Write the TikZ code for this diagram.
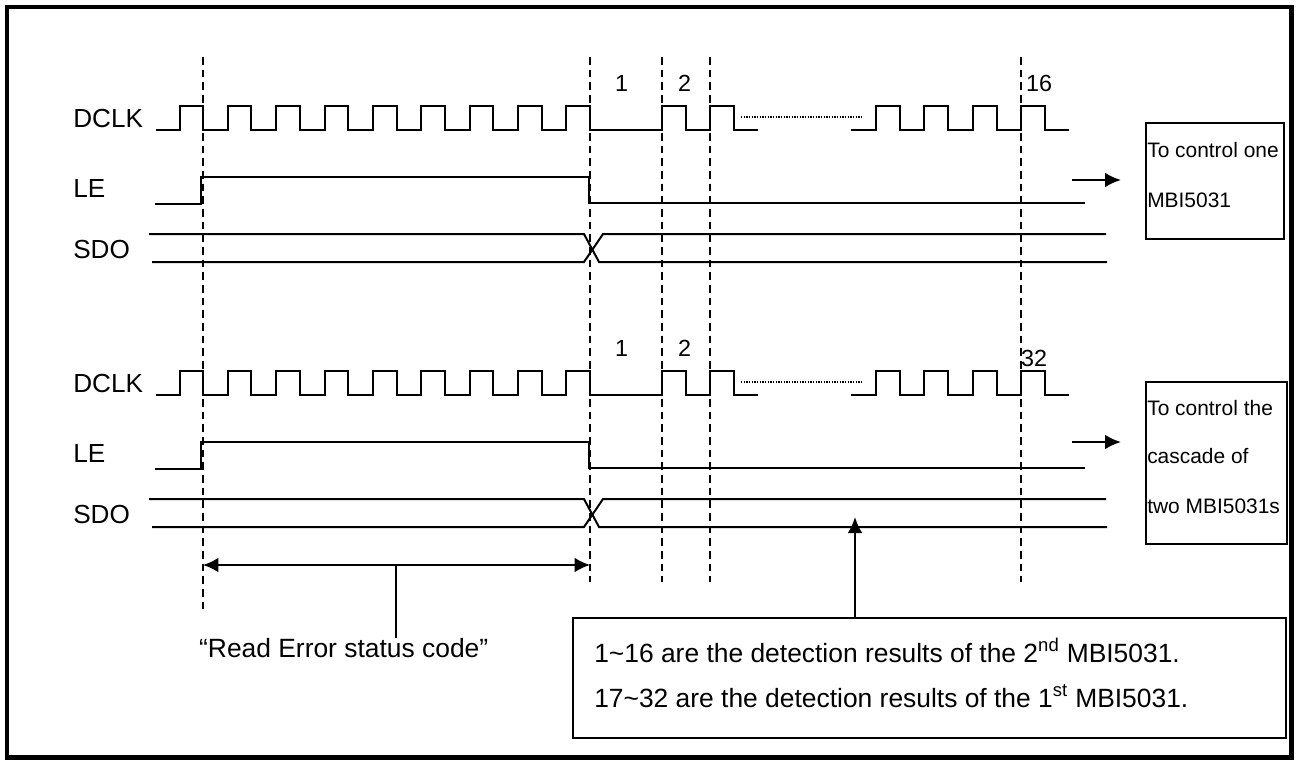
\documentclass[tikz,border=0pt]{standalone}
\usepackage{fontspec}
\setmainfont{Liberation Sans}
\usetikzlibrary{arrows.meta}
\def\px{0.75pt}
\def\blocks{0/up, 265/lo}
\def\risesA{179.6,227.9,276.3,324.6,373,421.3,469.7,518,566.4}
\def\risesB{662,710}
\def\risesC{876,924.2,972.5,1020.7}
\def\marklist{203/610, 590/582, 662/582, 710/582, 1020.7/582}
\tikzstyle{wave}=[draw,line width=1.5pt,line join=miter]
\tikzstyle{markline}=[draw,line width=1.4pt,dash pattern=on 5.8pt off 3.7pt]
\tikzstyle{dotgap}=[draw,line width=1pt,dash pattern=on 1pt off 1pt]
\tikzstyle{siglabel}=[anchor=base west,inner sep=0pt,font=\fontsize{19.6}{22}\selectfont]
\tikzstyle{pulsenum}=[anchor=base,inner sep=0pt,font=\fontsize{17.5}{20}\selectfont]
\tikzstyle{boxtext}=[anchor=base west,inner sep=0pt,font=\fontsize{15.7}{18}\selectfont]
\tikzstyle{notetext}=[anchor=base west,inner sep=0pt,font=\fontsize{19.8}{22}\selectfont]
\tikzstyle{box}=[draw,line width=1.3pt,inner sep=0pt]
\tikzstyle{sigarrow}=[draw,line width=1.5pt,-{Latex[length=12pt,width=11pt]}]
\tikzstyle{span}=[draw,line width=1.5pt,{Latex[length=11.5pt,width=11pt]}-{Latex[length=11.5pt,width=11pt]}]

\begin{document}
\begin{tikzpicture}[x=\px,y=-\px]
  \useasboundingbox (0,0) rectangle (1296,760);
  \fill[white] (0,0) rectangle (1296,760);
  \draw[line width=3.5pt] (7,7) rectangle (1291.5,757.5);

  % the two timing blocks
  \foreach \off/\blk in \blocks {
    \begin{scope}[shift={(0,\off)}]
      \node[siglabel] (dclk-\blk) at (73,127) {DCLK};
      \node[siglabel] (le-\blk) at (73,197) {LE};
      \node[siglabel] (sdo-\blk) at (73,258) {SDO};

      \path[wave] (156,130)
        \foreach \rise in \risesA {-- (\rise,130) -- (\rise,106) -- (\rise+23.5,106) -- (\rise+23.5,130)}
        \foreach \rise in \risesB {-- (\rise,130) -- (\rise,106) -- (\rise+24,106) -- (\rise+24,130)}
        -- (758,130);
      \path[dotgap] (741,117) -- (863,117);
      \path[wave] (851,130)
        \foreach \rise in \risesC {-- (\rise,130) -- (\rise,106) -- (\rise+24,106) -- (\rise+24,130)}
        -- (1069,130);

      \path[wave] (155,204) -- (201,204) -- (201,177) -- (589,177) -- (589,203) -- (1085,203);

      \path[wave] (149,234) -- (584,234) -- (599,262) -- (1107,262);
      \path[wave] (152,262) -- (584,262) -- (603,234) -- (1106,234);

      \node[pulsenum] (n1-\blk) at (621.5,91.7) {1};
      \node[pulsenum] (n2-\blk) at (684.5,91.7) {2};
    \end{scope}
  }
  \node[pulsenum] (n16) at (1039,91.7) {16};
  \node[pulsenum] (n32) at (1034,366.7) {32};

  % dashed time marks
  \foreach \x/\yend in \marklist
    \path[markline] (\x,57) -- (\x,\yend);

  % boxes on the right
  \node[box,minimum width=103.5pt,minimum height=87pt] (box-up) at (1215,181) {};
  \node[boxtext] (up-a) at (1147,157.6) {To control one};
  \node[boxtext] (up-b) at (1147,207.2) {MBI5031};
  \node[box,minimum width=105.75pt,minimum height=121.5pt] (box-lo) at (1216.5,463) {};
  \node[boxtext] (lo-a) at (1147,415) {To control the};
  \node[boxtext] (lo-b) at (1147,463.8) {cascade of};
  \node[boxtext] (lo-c) at (1147,513.4) {two MBI5031s};

  \coordinate (ar-up-s) at (1072,180);
  \coordinate (ar-up-e) at (1121,180);
  \coordinate (ar-lo-s) at (1072,442);
  \coordinate (ar-lo-e) at (1121,442);
  \path[sigarrow] (ar-up-s) -- (ar-up-e);
  \path[sigarrow] (ar-lo-s) -- (ar-lo-e);

  % read span
  \coordinate (span-l) at (203,565);
  \coordinate (span-r) at (590,565);
  \coordinate (span-m) at (396.4,565);
  \path[span] (span-l) -- (span-r);
  \node[notetext,anchor=base] (read) at (343.7,657) {“Read Error status code”};
  \path[wave] (span-m) -- (span-m |- read.north);

  % note on the detection results
  \node[box,minimum width=534.75pt,minimum height=90pt] (note) at (929.5,678) {};
  \node[notetext] (note-a) at (594,662) {1\textasciitilde16 are the detection results of the 2\textsuperscript{nd} MBI5031.};
  \node[notetext] (note-b) at (594,707) {17\textasciitilde32 are the detection results of the 1\textsuperscript{st} MBI5031.};
  \coordinate (sdo-tip) at (855,517);
  \path[sigarrow] (note.north -| sdo-tip) -- (sdo-tip);
\end{tikzpicture}
\end{document}
